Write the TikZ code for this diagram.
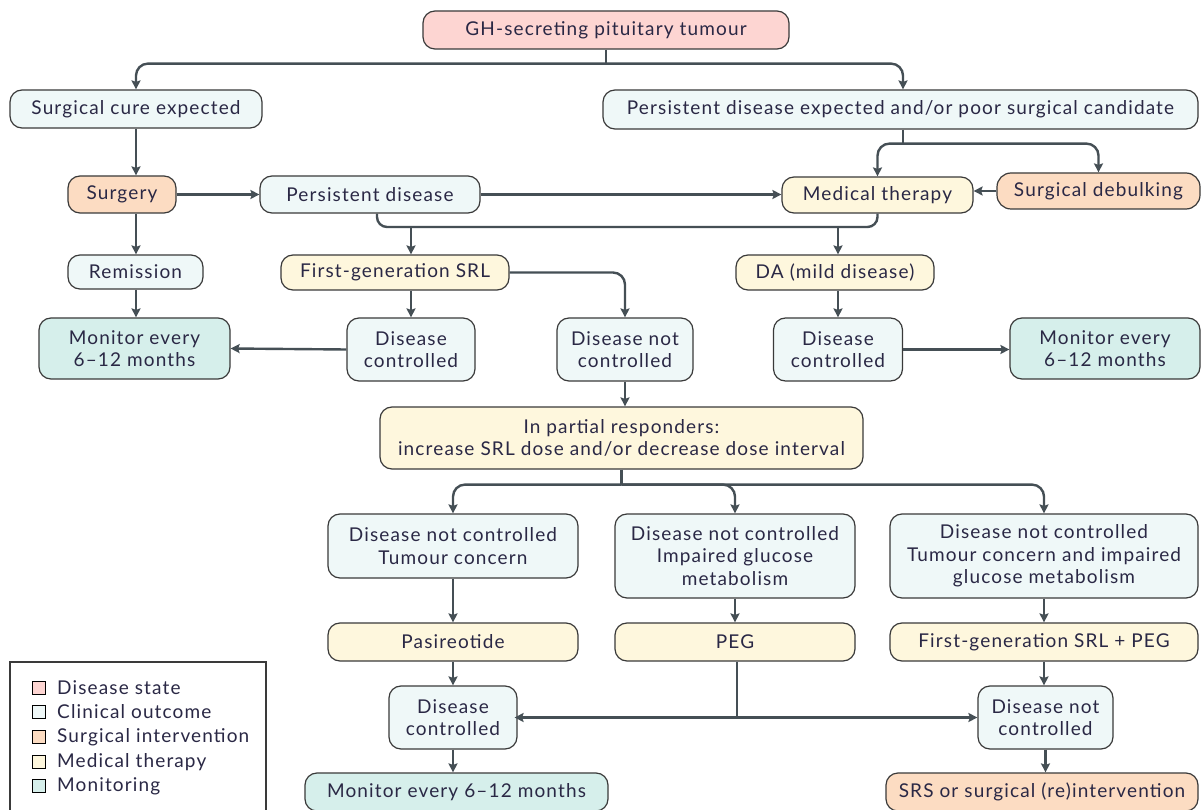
\documentclass[tikz,border=0pt]{standalone}
\usepackage{fontspec}
\setmainfont{Lato}[LetterSpace=6]
\usetikzlibrary{calc,arrows.meta}
\definecolor{cdis}{HTML}{FDD5D2}
\definecolor{cout}{HTML}{EFF8F8}
\definecolor{csur}{HTML}{FCDCC2}
\definecolor{cmed}{HTML}{FEF7DD}
\definecolor{cmon}{HTML}{D6EFEB}
\definecolor{cbrd}{HTML}{3A3A3A}
\definecolor{carr}{HTML}{454F55}
\definecolor{ctxt}{HTML}{2A2845}
\tikzset{
  x=1pt,y=-1pt,
  box/.style={draw=cbrd,line width=1.2pt,rounded corners=12pt,inner sep=0pt,align=center,text=ctxt,
    font=\fontsize{19}{22.5}\selectfont},
  dis/.style={box,fill=cdis},
  outc/.style={box,fill=cout},
  surg/.style={box,fill=csur},
  med/.style={box,fill=cmed},
  moni/.style={box,fill=cmon},
  ln/.style={draw=carr,line width=2.4pt},
  arr/.style={ln,-{Stealth[length=9pt,width=9pt,inset=1.5pt]}},
  legsq/.style={draw=black,line width=1.2pt,minimum size=13pt,inner sep=0pt},
  legtx/.style={anchor=west,inner sep=0pt,text=ctxt,font=\fontsize{19}{22}\selectfont},
}
\newcommand{\bx}[6]{\node[#1,minimum width=#4,minimum height=#5] (#2) at (#3) {#6};}
\begin{document}
\begin{tikzpicture}
\clip (0,0) rectangle (1203,810);
\fill[white] (0,0) rectangle (1203,810);
% nodes
\bx{dis}{gh}{606,30}{366pt}{38pt}{GH-secreting pituitary tumour}
\bx{outc}{sce}{136,109}{252pt}{38pt}{Surgical cure expected}
\bx{outc}{pde}{900.5,109.5}{595pt}{39pt}{Persistent disease expected and/or poor surgical candidate}
\bx{surg}{sg}{122,194.5}{108pt}{37pt}{Surgery}
\bx{outc}{pd}{370,194.5}{220pt}{37pt}{Persistent disease}
\bx{med}{mt}{877.5,195}{191pt}{36pt}{Medical therapy}
\node[surg,minimum width=203pt,minimum height=36pt,rounded corners=14pt] (sdb) at (1098.5,191) {Surgical debulking};
\bx{outc}{rem}{135.5,272}{135pt}{34pt}{Remission}
\bx{med}{srl}{395,272.5}{228pt}{35pt}{First-generation SRL}
\bx{med}{da}{835,272.5}{198pt}{35pt}{DA (mild disease)}
\bx{moni}{mon1}{134.5,348.5}{191pt}{61pt}{Monitor every\\6--12 months}
\bx{outc}{dc1}{411,349.5}{128pt}{63pt}{Disease\\controlled}
\bx{outc}{dnc1}{625,349.5}{136pt}{63pt}{Disease not\\controlled}
\bx{outc}{dc2}{838,349.5}{129pt}{63pt}{Disease\\controlled}
\bx{moni}{mon2}{1105,348.5}{190pt}{61pt}{Monitor every\\6--12 months}
\bx{med}{ipr}{621.5,438}{483pt}{62pt}{In partial responders:\\increase SRL dose and/or decrease dose interval}
\bx{outc}{dnct}{453,546}{250pt}{64pt}{Disease not controlled\\Tumour concern}
\bx{outc}{dncg}{735,556}{240pt}{84pt}{Disease not controlled\\Impaired glucose\\metabolism}
\bx{outc}{dnctg}{1044,556}{308pt}{84pt}{Disease not controlled\\Tumour concern and impaired\\glucose metabolism}
\bx{med}{pas}{453,642}{250pt}{38pt}{Pasireotide}
\bx{med}{peg}{735,642}{240pt}{38pt}{PEG}
\bx{med}{srlpeg}{1044,642}{308pt}{38pt}{First-generation SRL + PEG}
\bx{outc}{dc3}{453,717.5}{128pt}{63pt}{Disease\\controlled}
\bx{outc}{dnc3}{1045.5,717.5}{135pt}{63pt}{Disease not\\controlled}
\bx{moni}{mon3}{456.5,792}{303pt}{38pt}{Monitor every 6--12 months}
\bx{surg}{srs}{1042,792}{312pt}{38pt}{SRS or surgical (re)intervention}
% connectors
\coordinate (j1) at ($(gh.south)+(0,14)$);
\draw[ln] (gh.south) -- (j1);
\draw[arr,rounded corners=12pt] (j1) -| (sce.north);
\draw[arr,rounded corners=12pt] (j1) -| ([xshift=2.5pt]pde.north);
\coordinate (j2) at ($(pde.south)+(2.5,14)$);
\draw[ln] ([xshift=2.5pt]pde.south) -- (j2);
\draw[arr,rounded corners=12pt] (j2) -| (mt.north);
\draw[arr,rounded corners=12pt] (j2) -| (sdb.north);
\draw[arr] (sce.south) -- (sce.south |- sg.north);
\draw[arr] (sg.east) -- (sg.east -| pd.west);
\draw[arr] (pd.east) -- (pd.east -| mt.west);
\draw[arr] (sdb.west) -- (sdb.west -| mt.east);
\coordinate (hl) at (0,227);
\draw[ln,rounded corners=10pt] ([xshift=7pt]pd.south) |- (mt.south |- hl) -- (mt.south);
\draw[arr] (dc1.north |- hl) -- (dc1.north |- srl.north);
\draw[arr] (dc2.north |- hl) -- (dc2.north |- da.north);
\draw[arr] (sg.south -| sce.south) -- (sce.south |- rem.north);
\draw[arr] (sce.south |- rem.south) -- (sce.south |- mon1.north);
\draw[arr] (dc1.north |- srl.south) -- (dc1.north);
\draw[arr,rounded corners=12pt] (srl.east) -| (dnc1.north);
\draw[arr] (dc1.west) -- (mon1.east);
\draw[arr] (dc2.north |- da.south) -- (dc2.north);
\draw[arr] (dc2.east) -- (dc2.east -| mon2.west);
\draw[arr] (dnc1.south) -- (dnc1.south |- ipr.north);
\coordinate (j4) at ($(ipr.south)+(0,15)$);
\draw[ln] (ipr.south) -- (j4);
\draw[arr,rounded corners=12pt] (j4) -| (dnct.north);
\draw[arr,rounded corners=12pt] (j4) -| (dncg.north);
\draw[arr,rounded corners=12pt] (j4) -| (dnctg.north);
\draw[arr] (dnct.south) -- (pas.north);
\draw[arr] (dncg.south) -- (peg.north);
\draw[arr] (dnctg.south) -- (srlpeg.north);
\draw[arr] (pas.south) -- (dc3.north);
\draw[arr] (srlpeg.south) -- (srlpeg.south |- dnc3.north);
\coordinate (j5) at ($(peg.south |- dc3.east)+(2,0)$);
\draw[ln] ([xshift=2pt]peg.south) -- (j5);
\draw[arr] (j5) -- ([xshift=-3pt]dc3.east);
\draw[arr] (j5) -- ([xshift=0pt]dnc3.west);
\draw[arr] (dc3.south) -- (dc3.south |- mon3.north);
\draw[arr] (dnc3.south) -- (dnc3.south |- srs.north);
% legend
\node[draw=cbrd,line width=1.4pt,minimum width=256pt,minimum height=160pt,inner sep=0pt] (leg) at (138,742) {};
\node[legsq,fill=cdis] (l1) at (39,688) {};
\node[legsq,fill=cout] (l2) at (39,712) {};
\node[legsq,fill=csur] (l3) at (39,737) {};
\node[legsq,fill=cmed] (l4) at (39,762) {};
\node[legsq,fill=cmon] (l5) at (39,786) {};
\node[legtx] (t1) at (57,688) {Disease state};
\node[legtx] (t2) at (57,712) {Clinical outcome};
\node[legtx] (t3) at (57,737) {Surgical intervention};
\node[legtx] (t4) at (57,762) {Medical therapy};
\node[legtx] (t5) at (57,786) {Monitoring};
\end{tikzpicture}
\end{document}
